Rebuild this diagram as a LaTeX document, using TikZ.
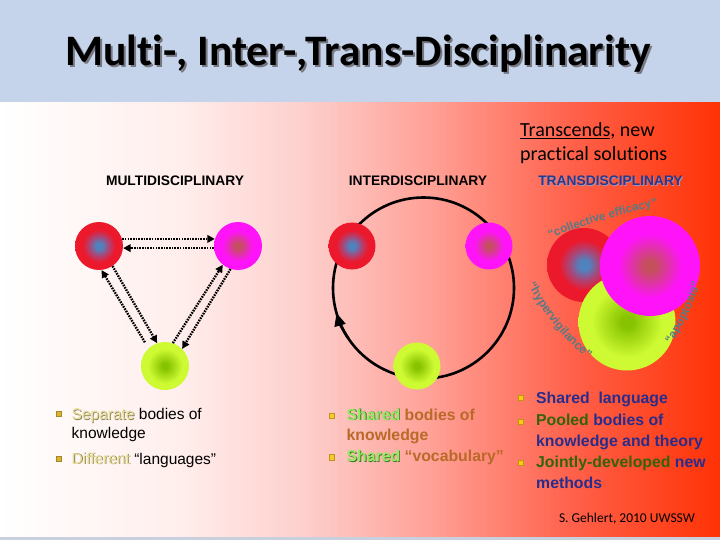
\documentclass[tikz,border=0pt]{standalone}
\usepackage{fontspec}
\usetikzlibrary{arrows.meta,decorations.text,calc}
\newfontfamily\arialf{Liberation Sans}
\newfontfamily\calib[Ligatures={NoCommon}]{Carlito}
\definecolor{bandblue}{RGB}{197,212,234}
\definecolor{stripc}{RGB}{200,208,222}
\definecolor{bgA}{RGB}{255,238,236}
\definecolor{bgB}{RGB}{253,208,205}
\definecolor{bgC}{RGB}{255,160,150}
\definecolor{bgD}{RGB}{255,95,72}
\definecolor{bgE}{RGB}{255,50,5}
\definecolor{rbc}{RGB}{80,130,190}
\definecolor{rbm}{RGB}{170,70,120}
\definecolor{rbe}{RGB}{236,24,44}
\definecolor{mbc}{RGB}{195,80,90}
\definecolor{mbe}{RGB}{255,20,250}
\definecolor{gbc}{RGB}{135,195,0}
\definecolor{gbe}{RGB}{205,250,50}
\definecolor{arcc}{RGB}{88,122,132}
\definecolor{sepc}{RGB}{232,222,150}
\definecolor{sepsh}{RGB}{140,130,90}
\definecolor{shgreen}{RGB}{150,232,100}
\definecolor{shgreensh}{RGB}{60,120,40}
\definecolor{brownc}{RGB}{185,105,40}
\definecolor{dblue}{RGB}{40,45,140}
\definecolor{dgreen}{RGB}{50,100,10}
\definecolor{tblue}{RGB}{45,55,135}
\definecolor{tbluesh}{RGB}{160,150,190}
\definecolor{bulL}{RGB}{220,180,50}
\definecolor{bulM}{RGB}{250,200,40}
\definecolor{bulR}{RGB}{255,200,20}
\pgfdeclarehorizontalshading{bgshade}{100bp}{color(0bp)=(white); color(25bp)=(white); color(37.5bp)=(bgA); color(46bp)=(bgB); color(55bp)=(bgC); color(65bp)=(bgD); color(75bp)=(bgE); color(100bp)=(bgE)}
\pgfdeclareradialshading{ballred}{\pgfpoint{0bp}{0bp}}{color(0bp)=(rbc); color(3.5bp)=(rbc); color(10bp)=(rbm); color(17bp)=(rbe); color(25bp)=(rbe); color(50bp)=(rbe)}
\pgfdeclareradialshading{ballmag}{\pgfpoint{0bp}{0bp}}{color(0bp)=(mbc); color(2.5bp)=(mbc); color(16bp)=(mbe); color(25bp)=(mbe); color(50bp)=(mbe)}
\pgfdeclareradialshading{ballgrn}{\pgfpoint{0bp}{0bp}}{color(0bp)=(gbc); color(3bp)=(gbc); color(18bp)=(gbe); color(25bp)=(gbe); color(50bp)=(gbe)}
\newcommand\shw[3]{\leavevmode\rlap{\hspace{0.8pt}\raisebox{-0.8pt}{\textcolor{#2}{#3}}}\textcolor{#1}{#3}}
\tikzset{
  ball/.style={circle, inner sep=0pt, minimum size=#1},
  dotarr/.style={line width=2.4pt, dash pattern=on 1.6pt off 1.1pt, -{Triangle[length=7.5pt,width=7.5pt]}},
  head/.style={font=\arialf\bfseries\fontsize{13.8}{14}\selectfont, anchor=base, inner sep=0pt},
  bul/.style={fill=#1, draw=#1!75!black, line width=0.3pt, minimum size=5.5pt, inner sep=0pt},
  lft/.style={font=\arialf\fontsize{15.5}{16}\selectfont, anchor=base west, inner sep=0pt},
  mid/.style={font=\arialf\bfseries\fontsize{15.8}{16}\selectfont, anchor=base west, inner sep=0pt, text=brownc},
  rgt/.style={font=\arialf\bfseries\fontsize{15.8}{16}\selectfont, anchor=base west, inner sep=0pt, text=dblue},
  arctext/.style={decorate, decoration={text along path, text align=center, text color=arcc}}
}
\begin{document}
\begin{tikzpicture}[x=1pt,y=1pt]
\useasboundingbox (0,0) rectangle (720,-540);
% backgrounds
\shade[shading=bgshade] (0,-101) rectangle (720,-540);
\fill[bandblue] (0,0) rectangle (720,-102);
\fill[stripc] (0,-537) rectangle (720,-540);
% title
\node[font=\calib\bfseries\fontsize{43.5}{44}\selectfont, anchor=base, text={rgb,255:red,120;green,120;blue,130}, inner sep=0pt] (titlesh) at (360,-68) {Multi-, Inter-,Trans-Disciplinarity};
\node[font=\calib\bfseries\fontsize{43.5}{44}\selectfont, anchor=base, text=black, inner sep=0pt] (title) at (358,-66) {Multi-, Inter-,Trans-Disciplinarity};
% top right text
\node[font=\calib\fontsize{20}{20}\selectfont, anchor=base west, inner sep=0pt] (tr1) at (520,-137) {\underline{Transcends}, new};
\node[font=\calib\fontsize{20}{20}\selectfont, anchor=base west, inner sep=0pt] (tr2) at (520,-161) {practical solutions};
% headings
\node[head] (hm) at (175,-186) {MULTIDISCIPLINARY};
\node[head] (hi) at (418,-186) {INTERDISCIPLINARY};
\node[head] (ht) at (610.5,-186) {\shw{tblue}{tbluesh}{TRANSDISCIPLINARY}};
% multidisciplinary
\node[ball=48pt, shading=ballred] (mr) at (99,-246) {};
\node[ball=48pt, shading=ballmag] (mm) at (238,-246) {};
\node[ball=48pt, shading=ballgrn] (mg) at (165,-366) {};
\draw[dotarr] (mr.17) -- (mm.163);
\draw[dotarr] (mm.185) -- (mr.-5);
\draw[dotarr, shorten <=7pt] (mg.133) -- (mr.-84);
\draw[dotarr] (mr.-56) -- (mg.109);
\draw[dotarr] (mg.71) -- (mm.-129);
\draw[dotarr] (mm.-108) -- (mg.45);
% interdisciplinary
\node[circle, draw, line width=2.6pt, minimum size=181pt, inner sep=0pt] (ic) at (423.5,-288) {};
\draw[line width=2.6pt, -{Triangle[length=13pt,width=11pt]}] ($(ic.center)+(214:90.5)$) arc (214:196:90.5);
\node[ball=47pt, shading=ballred] (ir) at (352,-246) {};
\node[ball=47pt, shading=ballmag] (im) at (489,-246) {};
\node[ball=47pt, shading=ballgrn] (ig) at (417,-366) {};
% transdisciplinary
\node[ball=74pt, shading=ballred] (tr) at (584,-265) {};
\node[ball=97pt, shading=ballgrn] (tg) at (627,-322) {};
\node[ball=100pt, shading=ballmag] (tm) at (650,-266) {};
\coordinate (ce1) at (546,-240);
\coordinate (ce2) at (662,-205);
\path[arctext, decoration={text={|\arialf\bfseries\fontsize{11.8}{12}\selectfont|“collective efficacy”}}] (ce1) .. controls (580,-226) and (625,-213) .. (ce2);
\coordinate (hv1) at (526,-280);
\coordinate (hv2) at (592,-362);
\path[arctext, decoration={text={|\arialf\bfseries\fontsize{12}{12}\selectfont|“hypervigilance”}}] (hv1) .. controls (538,-306) and (560,-338) .. (hv2);
\coordinate (ap1) at (667,-350);
\coordinate (ap2) at (702,-276);
\path[arctext, decoration={text={|\arialf\bfseries\fontsize{12}{12}\selectfont|“apoptosis”}}] (ap1) .. controls (682,-330) and (694,-305) .. (ap2);
% left bullets
\node[bul=bulL] (lb1) at (58.5,-413.5) {};
\node[bul=bulL] (lb2) at (58.5,-458.5) {};
\node[lft] (l1a) at (71.5,-419.5) {\shw{sepc}{sepsh}{Separate} bodies of};
\node[lft] (l1b) at (71.5,-438.5) {knowledge};
\node[lft] (l2a) at (71.5,-464) {\shw{sepc}{sepsh}{Different} “languages”};
% middle bullets
\node[bul=bulM] (mb1) at (331.5,-415.5) {};
\node[bul=bulM] (mb2) at (331.5,-457) {};
\node[mid] (m1a) at (346.5,-420) {\shw{shgreen}{shgreensh}{Shared} bodies of};
\node[mid] (m1b) at (346.5,-440.5) {knowledge};
\node[mid] (m2a) at (346.5,-461.5) {\shw{shgreen}{shgreensh}{Shared} “vocabulary”};
% right bullets
\node[bul=bulR] (rb1) at (520.5,-397.5) {};
\node[bul=bulR] (rb2) at (520.5,-421.5) {};
\node[bul=bulR] (rb3) at (520.5,-462.5) {};
\node[rgt] (r1a) at (536,-403) {Shared\ \ language};
\node[rgt] (r2a) at (536,-425) {\textcolor{dgreen}{Pooled} bodies of};
\node[rgt] (r2b) at (536,-446) {knowledge and theory};
\node[rgt] (r3a) at (536,-467) {\textcolor{dgreen}{Jointly-developed} new};
\node[rgt] (r3b) at (536,-488) {methods};
% footer
\node[font=\calib\fontsize{13.5}{14}\selectfont, anchor=base east, inner sep=0pt] (foot) at (695,-522) {S. Gehlert, 2010 UWSSW};
\end{tikzpicture}
\end{document}
